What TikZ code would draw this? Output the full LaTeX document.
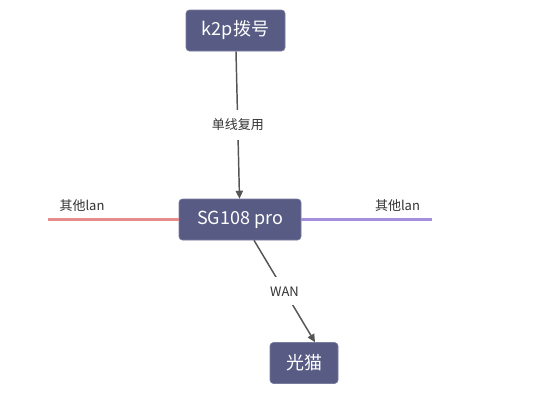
\documentclass[tikz,border=0pt]{standalone}
\usepackage{fontspec}
\setmainfont{Noto Sans CJK SC}
\usetikzlibrary{arrows.meta, positioning, calc}
\definecolor{box}{HTML}{585C85}
\definecolor{wire}{HTML}{555555}
\definecolor{lanred}{HTML}{E88B8B}
\definecolor{lanpurple}{HTML}{A48FDE}
\definecolor{ink}{HTML}{333333}

\begin{document}
\begin{tikzpicture}[x=0.75pt, y=-0.75pt, >={Triangle[length=6pt, width=5.5pt]},
    dev/.style={draw=box!80!white, fill=box, text=white, rounded corners=2.5pt,
                font=\fontsize{13.5}{16}\selectfont, inner sep=0pt, minimum height=30.75pt},
    link/.style={->, wire, line width=1.1pt},
    tag/.style={fill=white, text=ink, font=\fontsize{9.75}{12}\selectfont, inner xsep=4pt, inner ysep=7pt}]
  \useasboundingbox (0,0) rectangle (540,408);

  % The devices (top = dialer, bottom = modem).
  \node[dev, minimum width=74.25pt] (k2p) at (235.5,30.5) {k2p拨号};
  \node[dev, minimum width=91.5pt] (sg) at (240,219.5) {SG108 pro};
  \node[dev, minimum width=51pt] (modem) at (304,363) {光猫};

  % Uplink and WAN links.
  \draw[link] (k2p) -- node[tag]{单线复用} (sg);
  \draw[link] ($(sg.south)+(14,0)$) -- node[tag]{WAN} ($(modem.north)+(11,0)$);

  % Other LAN ports on both sides.
  \coordinate (lanL) at (48,219.5);
  \coordinate (lanR) at (432,219.5);
  \draw[lanred, line width=1.6pt] (sg.west) -- (lanL);
  \draw[lanpurple, line width=1.6pt] (sg.east) -- (lanR);
  \node[tag, fill=none] (lanLtag) at (82,206) {其他lan};
  \node[tag, fill=none] (lanRtag) at (397.5,206) {其他lan};
\end{tikzpicture}
\end{document}
